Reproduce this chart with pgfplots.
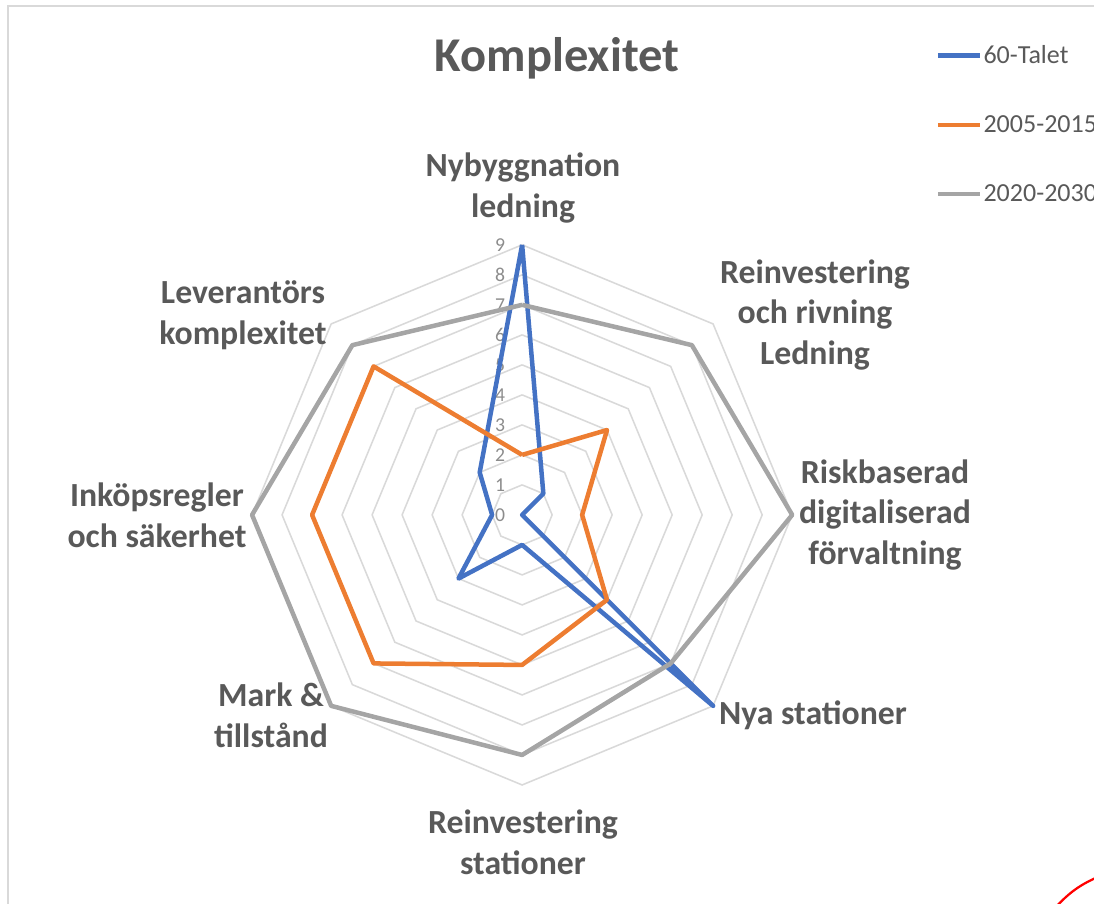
\documentclass[border=0pt]{standalone}
\usepackage{fontspec}
\setmainfont{Carlito}
\usepackage{pgfplots}
\pgfplotsset{compat=1.18}
\usepgfplotslibrary{polar}
\definecolor{s60}{HTML}{4472C4}
\definecolor{s05}{HTML}{ED7D31}
\definecolor{s20}{HTML}{A5A5A5}
\definecolor{txt}{HTML}{595959}
\definecolor{gridc}{HTML}{D9D9D9}
\definecolor{tickc}{HTML}{8C8C8C}

\begin{document}
\begin{tikzpicture}[x=0.025cm,y=0.025cm]
% light frame, cropped on the right and bottom
\draw[gridc, line width=1.5pt] (8,-10) -- (8,897) -- (1110,897);

\begin{polaraxis}[at={(13.05cm,9.7cm)}, anchor=center,
  scale only axis, width=13.5cm, height=13.5cm,
  xmin=0, xmax=360, ymin=0, ymax=9, hide axis, clip=false,
  legend style={at={(1.265,1.372)}, anchor=north west, draw=none, fill=none,
    font=\fontsize{18.5}{21}\selectfont, text=txt, row sep=33.5pt,
    inner sep=0pt, nodes={inner sep=1pt}},
  legend cell align=left,
  legend image code/.code={\draw[#1] (0cm,0cm) -- (1.05cm,0cm);},
]
\pgfplotsinvokeforeach{1,...,9}{
  \addplot[gridc, line width=1.1pt, forget plot] coordinates
    {(90,#1) (45,#1) (0,#1) (-45,#1) (-90,#1) (-135,#1) (-180,#1) (-225,#1) (-270,#1)};
}
\pgfplotsinvokeforeach{0,...,9}{
  \node[anchor=east, xshift=-0.42cm, inner sep=0pt, text=tickc,
    font=\fontsize{14}{14}\selectfont] at (axis cs:90,#1) {#1};
}
\addplot[s60, line width=3.2pt, line join=round] coordinates
  {(90,9) (45,1) (0,0) (-45,9) (-90,1) (-135,3) (-180,1) (-225,2) (-270,9)};
\addplot[s05, line width=3.2pt, line join=round] coordinates
  {(90,2) (45,4) (0,2) (-45,4) (-90,5) (-135,7) (-180,7) (-225,7) (-270,2)};
\addplot[s20, line width=3.2pt, line join=round] coordinates
  {(90,7) (45,8) (0,9) (-45,7) (-90,8) (-135,9) (-180,9) (-225,8) (-270,7)};
\legend{60-Talet, 2005-2015, 2020-2030}
\end{polaraxis}

\node[anchor=base, text=txt, font=\fontsize{34.5}{40}\selectfont\bfseries] at (557,831) {Komplexitet};

\begin{scope}[every node/.style={align=center, text=txt, font=\fontsize{24}{29}\selectfont\bfseries}]
\node at (523,715) {Nybyggnation\\ledning};
\node at (815,588) {Reinvestering\\och rivning\\Ledning};
\node at (885,388) {Riskbaserad\\digitaliserad\\förvaltning};
\node at (813,188) {Nya stationer};
\node at (523,61) {Reinvestering\\stationer};
\node at (271,188) {Mark \&\\tillstånd};
\node at (157,388) {Inköpsregler\\och säkerhet};
\node at (243,588) {Leverantörs\\komplexitet};
\end{scope}

\draw[red, line width=1.6pt] (1055,-5) to[bend left=12] (1100,27);

\pgfresetboundingbox
\useasboundingbox (0,0) rectangle (1094,903);
\end{tikzpicture}
\end{document}
